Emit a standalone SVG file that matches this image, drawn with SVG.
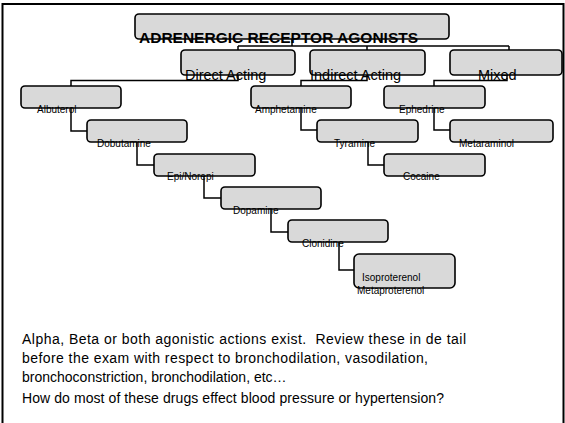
<svg xmlns="http://www.w3.org/2000/svg" width="565" height="423" viewBox="0 0 565 423">
<style>
.box{fill:#d9d9d9;stroke:#000;stroke-width:1.6}
.con{fill:none;stroke:#000;stroke-width:1.5}
.t{font-family:"Liberation Sans",Arial,sans-serif;fill:#000}
.lbl{font-family:"Liberation Sans",Arial,sans-serif;fill:#000;font-size:10px}
.mid{font-size:14.5px}
.body{font-size:14px}
</style>
<rect width="565" height="423" fill="#fff"/>
<path d="M2.5,423 V4 H563.5 V423" fill="none" stroke="#000" stroke-width="2"/>
<g id="connectors">
<path class="con" d="M292,39 V46 M238,46 H509 M238,46 V50 M367,46 V50 M509,46 V50"/>
<path class="con" d="M238,75 V80.5 H71 V86"/>
<path class="con" d="M367,75 V80.5 H301 V86"/>
<path class="con" d="M507,75 V80.5 H434 V86"/>
<path class="con" d="M71,108 V131 H87"/>
<path class="con" d="M137,142 V165 H154"/>
<path class="con" d="M204,176 V198 H221"/>
<path class="con" d="M271,209 V232 H288"/>
<path class="con" d="M339,242 V270 H354"/>
<path class="con" d="M301,108 V130 H317"/>
<path class="con" d="M368,142 V165 H384"/>
<path class="con" d="M434,108 V130 H450"/>
</g>
<g id="root"><rect class="box" x="135" y="14" width="314" height="25" rx="4"/><text class="t" x="139" y="42.5" font-size="15.5" font-weight="bold">ADRENERGIC RECEPTOR AGONISTS</text></g>
<g id="direct"><rect class="box" x="181" y="50" width="114" height="25" rx="4"/><text class="t mid" x="185" y="80">Direct Acting</text></g>
<g id="indirect"><rect class="box" x="310" y="50" width="115" height="25" rx="4"/><text class="t mid" x="310" y="80">Indirect Acting</text></g>
<g id="mixed"><rect class="box" x="450" y="50" width="112" height="25" rx="4"/><text class="t mid" x="478" y="80">Mixed</text></g>
<g id="albuterol"><rect class="box" x="21" y="86" width="100" height="22" rx="4"/><text class="lbl" x="37" y="113">Albuterol</text></g>
<g id="dobutamine"><rect class="box" x="87" y="120" width="100" height="22" rx="4"/><text class="lbl" x="97" y="147">Dobutamine</text></g>
<g id="epinorepi"><rect class="box" x="154" y="154" width="101" height="22" rx="4"/><text class="lbl" x="167" y="180">Epi/Norepi</text></g>
<g id="dopamine"><rect class="box" x="221" y="187" width="100" height="22" rx="4"/><text class="lbl" x="233" y="214" font-size="12">Dopamine</text></g>
<g id="clonidine"><rect class="box" x="288" y="220" width="100" height="22" rx="4"/><text class="lbl" x="302" y="246.5" font-size="11">Clonidine</text></g>
<g id="isoproterenol"><rect class="box" x="354" y="254" width="101" height="34" rx="5"/><text class="lbl" x="362" y="281" font-size="10.5">Isoproterenol</text><text class="lbl" x="357" y="294" font-size="10.5">Metaproterenol</text></g>
<g id="amphetamine"><rect class="box" x="251" y="86" width="100" height="22" rx="4"/><text class="lbl" x="255" y="113">Amphetamine</text></g>
<g id="tyramine"><rect class="box" x="317" y="120" width="101" height="22" rx="4"/><text class="lbl" x="334" y="147">Tyramine</text></g>
<g id="cocaine"><rect class="box" x="384" y="154" width="101" height="22" rx="4"/><text class="lbl" x="403" y="180">Cocaine</text></g>
<g id="ephedrine"><rect class="box" x="384" y="86" width="101" height="22" rx="4"/><text class="lbl" x="399" y="113">Ephedrine</text></g>
<g id="metaraminol"><rect class="box" x="450" y="120" width="103" height="22" rx="4"/><text class="lbl" x="459" y="147">Metaraminol</text></g>
<g id="notes" class="t body">
<text x="22" y="344" textLength="444" lengthAdjust="spacing">Alpha, Beta or both agonistic actions exist.&#160; Review these in de tail</text>
<text x="22" y="363" textLength="406" lengthAdjust="spacing">before the exam with respect to bronchodilation, vasodilation,</text>
<text x="22" y="382">bronchoconstriction, bronchodilation, etc…</text>
<text x="22" y="403" textLength="422" lengthAdjust="spacing">How do most of these drugs effect blood pressure or hypertension?</text>
</g>
</svg>
